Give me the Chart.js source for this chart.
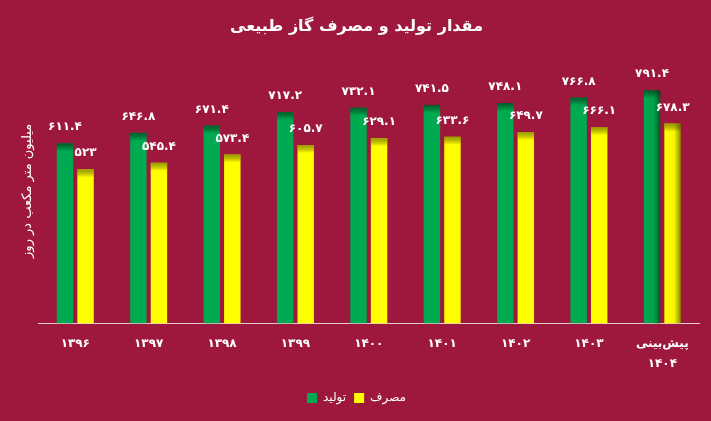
<!DOCTYPE html>
<html><head><meta charset="utf-8">
<script src="https://cdn.jsdelivr.net/npm/chart.js@4/dist/chart.umd.min.js"></script>
<style>html,body{margin:0;padding:0;background:#9d183c;}#wrap{width:711px;height:421px;}</style>
</head><body><div id="wrap"><canvas id="c" width="711" height="421"></canvas></div>
<script>
const categories = ['۱۳۹۶','۱۳۹۷','۱۳۹۸','۱۳۹۹','۱۴۰۰','۱۴۰۱','۱۴۰۲','۱۴۰۳',['پیش‌بینی','۱۴۰۴']];
const production = [611.4, 646.8, 671.4, 717.2, 732.1, 741.5, 748.1, 766.8, 791.4];
const consumption = [523, 545.4, 573.4, 605.7, 629.1, 633.6, 649.7, 666.1, 678.3];
const seriesNames = ['تولید','مصرف'];
const titleText = 'مقدار تولید و مصرف گاز طبیعی';
const yTitle = 'میلیون متر مکعب در روز';

const faDigits = '۰۱۲۳۴۵۶۷۸۹';
function toFa(v){ return String(v).replace(/[0-9]/g, d => faDigits[+d]); }

const FONT = "'DejaVu Sans', sans-serif";
const palettes = [
  {base:'#00aa50', mid:'#00a24c', dark:'#005a29', top:'rgba(0,40,15,0.6)'},
  {base:'#ffff00', mid:'#f7f700', dark:'#8a8a00', top:'rgba(90,90,0,0.6)'}
];

const gradientPlugin = {
  id:'barGrad',
  beforeDatasetsDraw(chart){
    const ctx = chart.ctx;
    chart.data.datasets.forEach((ds, di) => {
      const p = palettes[di];
      chart.getDatasetMeta(di).data.forEach(el => {
        const l = el.x - el.width/2, r = el.x + el.width/2;
        const g = ctx.createLinearGradient(l, 0, r, 0);
        g.addColorStop(0, p.base);
        g.addColorStop(0.6, p.mid);
        g.addColorStop(1, p.dark);
        el.options.backgroundColor = g;
      });
    });
  },
  afterDatasetsDraw(chart){
    const ctx = chart.ctx;
    chart.data.datasets.forEach((ds, di) => {
      const p = palettes[di];
      chart.getDatasetMeta(di).data.forEach(el => {
        const l = el.x - el.width/2;
        const g = ctx.createLinearGradient(0, el.y, 0, el.y + 8);
        g.addColorStop(0, p.top);
        g.addColorStop(1, 'rgba(0,0,0,0)');
        ctx.save();
        ctx.fillStyle = g;
        ctx.fillRect(l, el.y, el.width, 8);
        ctx.restore();
      });
    });
    ctx.save();
    ctx.fillStyle = '#ffffff';
    ctx.font = "bold 12px " + FONT;
    ctx.textAlign = 'center';
    ctx.textBaseline = 'bottom';
    chart.data.datasets.forEach((ds, di) => {
      chart.getDatasetMeta(di).data.forEach((el, i) => {
        ctx.fillText(toFa(ds.data[i]), el.x, el.y - 10);
      });
    });
    ctx.restore();
  }
};

new Chart(document.getElementById('c'), {
  type:'bar',
  data:{
    labels: categories,
    datasets:[
      {label: seriesNames[0], data: production, backgroundColor:'#00aa50', categoryPercentage:0.56, barPercentage:0.8},
      {label: seriesNames[1], data: consumption, backgroundColor:'#ffff00', categoryPercentage:0.56, barPercentage:0.8}
    ]
  },
  options:{
    responsive:false,
    animation:false,
    layout:{padding:{left:14, right:12, top:0, bottom:7}},
    plugins:{
      title:{display:true, text:titleText, color:'#ffffff', font:{family:FONT, size:16, weight:'bold'}, padding:{top:17, bottom:22}},
      legend:{position:'bottom', rtl:false, labels:{color:'#ffffff', boxWidth:10, boxHeight:10, font:{family:FONT, size:12}, padding:8}},
      tooltip:{enabled:false}
    },
    scales:{
      x:{
        grid:{display:false, drawTicks:false},
        border:{display:true, color:'#e9c9d2', width:1},
        ticks:{color:'#ffffff', font:{family:FONT, size:12, weight:'bold', lineHeight:1.6}, padding:11, maxRotation:0}
      },
      y:{
        min:0, max:900,
        grid:{display:false, drawTicks:false},
        border:{display:false},
        ticks:{display:false},
        title:{display:true, text:yTitle, color:'#ffffff', font:{family:FONT, size:13}, padding:{top:6,bottom:3}}
      }
    }
  },
  plugins:[gradientPlugin]
});
</script>
</body></html>
